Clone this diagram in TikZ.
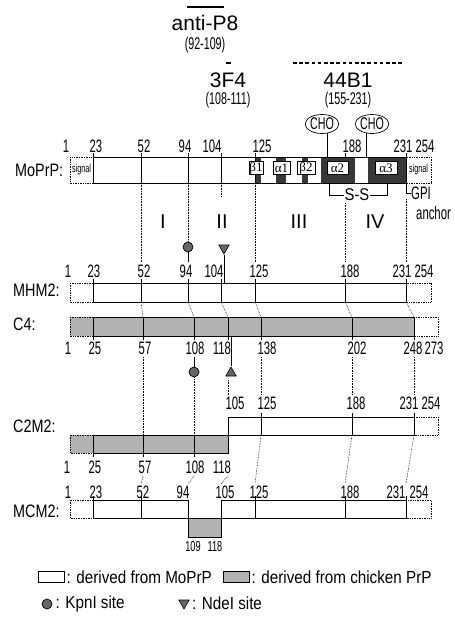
\documentclass[tikz,border=0pt]{standalone}
\usepackage{fontspec}
\setmainfont{Liberation Sans}
\newfontfamily\narrowfont{Liberation Sans}[FakeStretch=0.63]
\newfontfamily\semifont{Liberation Sans}[FakeStretch=0.87]
\newfontfamily\rowfont{Liberation Sans}[FakeStretch=0.8]
\newfontfamily\greekfont{Liberation Serif}
\usetikzlibrary{positioning,shapes.geometric}

\begin{document}
\begin{tikzpicture}[
        x=1pt, y=-1pt,
        num/.style={font=\narrowfont\fontsize{18}{18}\selectfont, inner sep=0pt},
        smallnum/.style={font=\narrowfont\fontsize{14.5}{14.5}\selectfont, inner sep=0pt},
        rowlabel/.style={font=\rowfont\fontsize{18}{18}\selectfont, anchor=west, inner sep=0pt},
        region/.style={font=\fontsize{20}{20}\selectfont, inner sep=0pt},
        ablabel/.style={font=\fontsize{21}{21}\selectfont, inner sep=0pt},
        abrange/.style={font=\narrowfont\fontsize{17}{17}\selectfont, inner sep=0pt},
        legend/.style={font=\semifont\fontsize{17.5}{17.5}\selectfont, inner sep=0pt, anchor=west},
        sig/.style={font=\narrowfont\fontsize{11.5}{11.5}\selectfont, inner sep=0pt},
        bar/.style={draw, line width=0.8pt},
        sigbox/.style={draw, densely dotted, line width=0.7pt},
        chick/.style={fill=black!30},
        dark/.style={fill=black!78},
        tick/.style={line width=0.7pt},
        link/.style={densely dotted, line width=0.6pt},
        greekbox/.style={draw, fill=white, line width=0.6pt, inner sep=0pt, minimum height=12.5pt, font=\greekfont\fontsize{13}{13}\selectfont},
        cho/.style={ellipse, draw, line width=0.7pt, inner sep=0pt, minimum width=29pt, minimum height=19pt, font=\narrowfont\fontsize{17}{17}\selectfont},
        kpn/.style={circle, draw, fill=black!60, line width=0.7pt, minimum size=10pt, inner sep=0pt},
        ndedown/.style={regular polygon, regular polygon sides=3, shape border rotate=180, draw, fill=black!60, line width=0.6pt, minimum size=12pt, inner sep=0pt},
        ndeup/.style={regular polygon, regular polygon sides=3, draw, fill=black!60, line width=0.6pt, minimum size=12pt, inner sep=0pt},
        legbox/.style={draw, line width=0.7pt, minimum width=26pt, minimum height=11pt, inner sep=0pt}
    ]
        \useasboundingbox (0,0) rectangle (455,629);

        \draw[line width=1.6pt] (187,7) -- (224,7);
        \node[ablabel] (p8) at (205,23) {anti-P8};
        \node[abrange] (p8r) at (205,45) {(92-109)};
        \draw[line width=1.6pt] (226,63) -- (231,63);
        \node[ablabel] (f3) at (228,80) {3F4};
        \node[abrange] (f3r) at (228,100) {(108-111)};
        \draw[line width=1.6pt, dash pattern=on 3.6pt off 2.6pt] (293,63) -- (403,63);
        \node[ablabel] (b44) at (348,80) {44B1};
        \node[abrange] (b44r) at (348,100) {(155-231)};

        \node[cho] (cho1) at (322,124) {CHO};
        \node[cho] (cho2) at (372,124) {CHO};
        \draw[tick] (cho1.300) -- (cho1.300 |- 0,157);
        \draw[tick] (cho2.240) -- (cho2.240 |- 0,157);

        \node[rowlabel] (mo) at (15,170) {MoPrP:};
        \fill[dark] (255,157) rectangle (261,183);
        \fill[dark] (276,157) rectangle (286,183);
        \fill[dark] (302,157) rectangle (308,183);
        \fill[dark] (321,157) rectangle (355,183);
        \fill[dark] (368,157) rectangle (406,183);
        \draw[sigbox] (70,157) rectangle (93,183);
        \draw[bar] (93,157) rectangle (406,183);
        \draw[sigbox] (406,157) rectangle (431,183);
        \node[sig] (sigl) at (81.5,170) {signal};
        \node[sig] (sigr) at (418.5,170) {signal};
        \foreach \x in {141,188,221,255}
            \draw[tick] (\x,153) -- (\x,183);
        \foreach \x in {93,345,406}
            \draw[tick] (\x,153) -- (\x,157);
        \node[greekbox, minimum width=14pt] (b1) at (256,168) {β1};
        \node[greekbox, minimum width=17pt] (a1) at (281.5,168) {α1};
        \node[greekbox, minimum width=18pt] (b2) at (306,168) {β2};
        \node[greekbox, minimum width=21pt] (a2) at (337.5,168) {α2};
        \node[greekbox, minimum width=22pt] (a3) at (386,168) {α3};
        \foreach \x/\t in {66/1,96/23,144/52,185/94,212/104,262/125,352/188,403/231,425/254}
            \node[num] at (\x,146) {\t};

        \draw[tick] (329,183) -- (329,195) -- (387,195) -- (387,183);
        \node[font=\semifont\fontsize{17}{17}\selectfont, fill=white, inner sep=1pt] (ss) at (357,195) {S-S};
        \draw[tick] (406,183) -- (406,193) -- (411,193);
        \node[num, anchor=west] (gpi) at (411,193) {GPI};
        \node[num, anchor=west] (anc) at (416,213) {anchor};

        \node[region] (r1) at (163,222) {I};
        \node[region] (r2) at (222,222) {II};
        \node[region] (r3) at (299,222) {III};
        \node[region] (r4) at (375,222) {IV};

        \node[kpn] (kpn1) at (188,247) {};
        \node[ndedown] (nde1) at (224,248) {};
        \draw[link] (141,183) -- (141,262);
        \draw[link] (188,183) -- (kpn1.north);
        \draw[link] (221,183) -- (221,196);
        \draw[link] (255,183) -- (255,262);
        \draw[link] (345,203) -- (345,262);
        \draw[link] (406,199) -- (406,262);
        \draw[tick] (kpn1.south) -- (188,262);
        \draw[tick] (nde1.corner 1) -- (nde1.corner 1 |- 0,283);

        \node[rowlabel] (mhm) at (13,290) {MHM2:};
        \draw[sigbox] (70,283) rectangle (93,302);
        \draw[bar] (93,283) rectangle (406,302);
        \draw[sigbox] (406,283) rectangle (431,302);
        \foreach \x in {141,188,221,255,345}
            \draw[tick] (\x,279) -- (\x,302);
        \foreach \x in {93,406}
            \draw[tick] (\x,279) -- (\x,283);
        \foreach \x/\t in {68/1,94/23,144/52,186/94,214/104,259/125,350/188,402/231,424/254}
            \node[num] at (\x,271) {\t};

        \foreach \a/\b in {141/143,188/194,221/228,255/261,345/352,406/414}
            \draw[link] (\a,302) -- (\b,317);

        \node[rowlabel] (cf) at (13,324) {C4:};
        \filldraw[chick, sigbox] (70,317) rectangle (93,336);
        \filldraw[chick, bar] (93,317) rectangle (414,336);
        \draw[sigbox] (414,317) rectangle (438,336);
        \foreach \x in {143,194,228,261,352}
            \draw[tick] (\x,317) -- (\x,340);
        \foreach \x in {93,414}
            \draw[tick] (\x,336) -- (\x,340);
        \foreach \x/\t in {68/1,95/25,145/57,195/108,222/118,267/138,357/202,413/248,434/273}
            \node[num] at (\x,348) {\t};

        \node[kpn] (kpn2) at (194,372) {};
        \node[ndeup] (nde2) at (231,373) {};
        \draw[tick] (194,357) -- (kpn2.north);
        \draw[tick] (nde2.corner 1 |- 0,336) -- (nde2.corner 1);
        \draw[link] (143,357) -- (143,435);
        \draw[link] (kpn2.south) -- (194,435);
        \draw[link] (228,380) -- (228,395);
        \foreach \x in {261,352,414}
            \draw[link] (\x,357) -- (\x,395);

        \node[rowlabel] (ctm) at (13,426) {C2M2:};
        \draw[bar] (228,417) rectangle (414,435);
        \draw[sigbox] (414,417) rectangle (438,435);
        \foreach \x in {261,352}
            \draw[tick] (\x,413) -- (\x,435);
        \draw[tick] (414,413) -- (414,417);
        \filldraw[chick, sigbox] (70,435) rectangle (93,453);
        \filldraw[chick, bar] (93,435) rectangle (228,453);
        \foreach \x in {93,143,194}
            \draw[tick] (\x,435) -- (\x,457);
        \foreach \x/\t in {235/105,267/125,356/188,409/231,431/254}
            \node[num] at (\x,403) {\t};
        \foreach \x/\t in {67/1,95/25,145/57,195/108,222/118}
            \node[num] at (\x,467) {\t};

        \foreach \a/\b in {143/141,194/188,228/221}
            \draw[link] (\a,476) -- (\b,484);
        \foreach \a/\b in {261/255,352/345,414/406}
            \draw[link] (\a,435) -- (\b,484);

        \node[rowlabel] (mcm) at (13,511) {MCM2:};
        \draw[sigbox] (70,500) rectangle (93,518);
        \draw[bar] (93,500) rectangle (188,518);
        \draw[bar] (221,500) rectangle (406,518);
        \filldraw[chick, bar] (188,518) rectangle (221,537);
        \draw[sigbox] (406,500) rectangle (431,518);
        \foreach \x in {141,255,345}
            \draw[tick] (\x,496) -- (\x,518);
        \foreach \x in {93,406}
            \draw[tick] (\x,496) -- (\x,500);
        \foreach \x/\t in {68/1,96/23,143/52,183/94,225/105,259/125,350/188,396/231,419/254}
            \node[num] at (\x,492) {\t};
        \node[smallnum] (n109) at (193,547) {109};
        \node[smallnum] (n118) at (215,547) {118};

        \node[legbox, fill=white] (lmo) at (51,577) {};
        \node[legend, right=2pt of lmo] (tmo) {: derived from MoPrP};
        \node[legbox, chick] (lch) at (236,577) {};
        \node[legend, right=2pt of lch] (tch) {: derived from chicken PrP};
        \node[kpn] (lkpn) at (47,604) {};
        \node[legend, right=3pt of lkpn] (tkpn) {: KpnI site};
        \node[ndedown] (lnde) at (184,603) {};
        \node[legend, right=4pt of lnde] (tnde) {: NdeI site};
    \end{tikzpicture}
\end{document}
